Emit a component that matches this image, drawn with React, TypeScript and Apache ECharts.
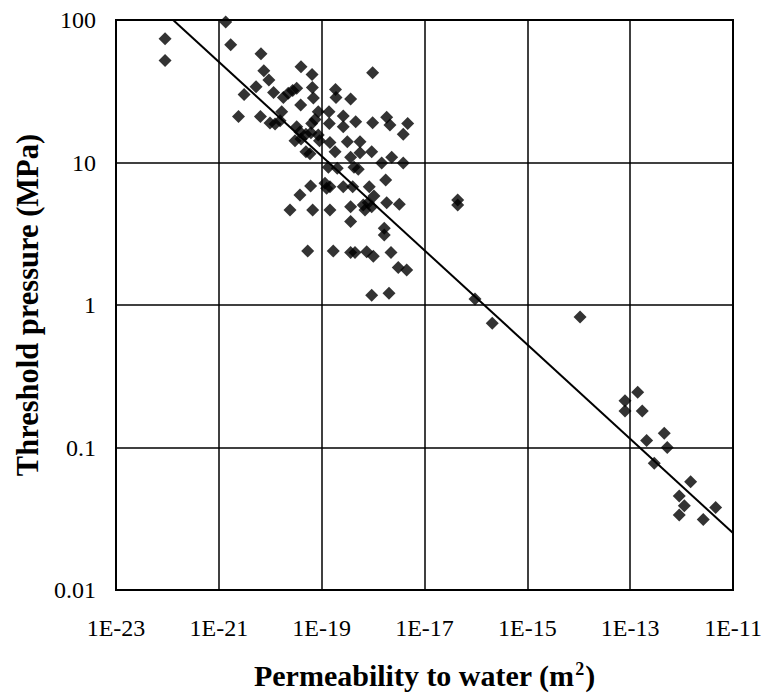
import React, { useEffect, useRef } from "react";
import * as echarts from "echarts";

// Permeability to water (m^2) and threshold pressure (MPa)
const permeability: number[] = [
  9.0e-23, 9.0e-23, 1.36e-21, 1.7e-21, 6.6e-21, 7.5e-21, 9.4e-21, 3.1e-21, 5.3e-21, 1.16e-20,
  1.8e-20, 2.24e-20, 2.73e-20, 3.27e-20, 3.96e-20, 6.5e-20, 6.6e-20, 6.9e-20, 1.86e-19, 1.9e-19,
  3.66e-19, 9.8e-19, 2.41e-21, 6.45e-21, 9.9e-21, 1.24e-20, 1.67e-20, 1.55e-20, 3.91e-20, 3.27e-20,
  3.78e-20, 3.03e-20, 3.96e-20, 6.4e-20, 6.19e-20, 8.59e-20, 9.08e-20, 4.95e-20, 8.59e-20, 7.41e-20,
  1.39e-19, 1.41e-19, 2.63e-19, 2.63e-19, 4.59e-19, 9.8e-19, 1.84e-18, 2.13e-18, 4.71e-18, 3.86e-18,
  1.45e-19, 3.15e-19, 5.56e-19, 4.95e-20, 5.93e-20, 1.82e-19, 3.66e-19, 5.56e-19, 9.4e-19, 2.3e-18,
  1.47e-18, 3.86e-18, 1.35e-19, 2.01e-19, 4.26e-19, 5.15e-19, 1.76e-18, 6.1e-20, 1.16e-19, 1.25e-19,
  1.45e-19, 2.63e-19, 4.01e-19, 8.43e-19, 3.78e-20, 1.04e-18, 2.42e-20, 6.68e-20, 1.45e-19, 3.66e-19,
  3.66e-19, 6.44e-19, 6.97e-19, 9.4e-19, 8.07e-19, 1.84e-18, 3.24e-18, 1.65e-18, 1.65e-18, 5.35e-20,
  1.68e-19, 3.66e-19, 4.45e-19, 7.52e-19, 1.01e-18, 2.23e-18, 3.09e-18, 4.5e-18, 9.4e-19, 2.04e-18,
  4.42e-17, 4.42e-17, 9.6e-17, 2.08e-16, 1.06e-14, 1.4e-13, 7.93e-14, 7.93e-14, 1.72e-13, 4.6e-13,
  2.09e-13, 5.27e-13, 2.94e-13, 1.5e-12, 9.0e-13, 1.13e-12, 9.0e-13, 4.6e-12, 2.64e-12,
];
const thresholdPressure: number[] = [
  74, 52, 97, 67, 58, 44, 38, 30, 34, 31,
  28.6, 30.6, 32, 33.2, 47, 41.5, 33.6, 28.4, 32.5, 28.6,
  27.9, 42.7, 21, 21, 18.9, 18.6, 22.7, 19.6, 25.3, 17.8,
  16.4, 14.2, 14.6, 18.8, 16.2, 15.6, 14.2, 15.8, 22.7, 20,
  22.7, 18.8, 21.2, 17.8, 19.3, 19, 20.8, 18.3, 18.8, 15.8,
  13.8, 14, 14, 11.9, 11.5, 11.9, 10.9, 11.7, 11.9, 10.9,
  9.9, 9.9, 9.25, 9.1, 9.25, 8.97, 7.53, 6.84, 7.14, 6.6,
  6.76, 6.76, 6.76, 6.76, 5.91, 5.82, 4.64, 4.64, 4.64, 4.9,
  3.85, 5.03, 4.64, 4.9, 5.22, 5.22, 5.09, 3.45, 3.1, 2.39,
  2.39, 2.34, 2.34, 2.36, 2.2, 2.34, 1.83, 1.76, 1.17, 1.21,
  5.46, 5.03, 1.1, 0.745, 0.824, 0.244, 0.213, 0.18, 0.18, 0.126,
  0.112, 0.1, 0.0774, 0.0575, 0.0457, 0.039, 0.0336, 0.038, 0.0313,
];

// Fitted power-law line end points
const fitPermeability: number[] = [1.29e-22, 1e-11];
const fitPressure: number[] = [100, 0.0251];

// Axis ranges: permeability decades (log10 of m^2) and pressure (MPa)
const xDecadeRange: number[] = [-23, -11];
const xDecadeStep = 2;
const yRange: number[] = [0.01, 100];

const xTitle = "Permeability to water (m";
const yTitle = "Threshold pressure (MPa)";

const FONT = "'Liberation Serif', 'Times New Roman', serif";

// The x axis is a logarithmic permeability axis; ECharts' log scale rounds values
// below 1e-20 to zero, so the axis runs in decades counted from 1E-23.
const X0 = xDecadeRange[0];
const toAxis = (k: number) => Math.log10(k) - X0;

export default function App() {
  const ref = useRef<HTMLDivElement>(null);

  useEffect(() => {
    document.body.style.margin = "0";
    const chart = echarts.init(ref.current!, null, { renderer: "svg" });

    const points = permeability.map((k, i) => [toAxis(k), thresholdPressure[i]]);
    const fit = fitPermeability.map((k, i) => [toAxis(k), fitPressure[i]]);

    chart.setOption({
      animation: false,
      backgroundColor: "#fff",
      textStyle: { fontFamily: FONT },
      grid: {
        left: 116,
        top: 20,
        width: 617,
        height: 570,
        show: true,
        borderColor: "#000",
        borderWidth: 2,
        backgroundColor: "transparent",
      },
      xAxis: {
        type: "value",
        min: 0,
        max: xDecadeRange[1] - X0,
        interval: xDecadeStep,
        axisLine: { show: true, lineStyle: { color: "#000", width: 2 } },
        axisTick: { show: false },
        splitLine: { show: true, lineStyle: { color: "#000", width: 1.5 } },
        axisLabel: {
          color: "#000",
          fontFamily: FONT,
          fontSize: 24,
          margin: 26,
          formatter: (v: number) => `1E${Math.round(v + X0)}`,
        },
        name: `{t|${xTitle}}{s|2}{t|)}`,
        nameLocation: "middle",
        nameGap: 70,
        nameTextStyle: {
          fontFamily: FONT,
          rich: {
            t: { fontFamily: FONT, fontSize: 30, fontWeight: "bold", color: "#000" },
            s: {
              fontFamily: FONT,
              fontSize: 18,
              fontWeight: "bold",
              color: "#000",
              verticalAlign: "top",
              padding: [0, 1, 13, 1],
            },
          },
        },
      },
      yAxis: {
        type: "log",
        logBase: 10,
        min: yRange[0],
        max: yRange[1],
        axisLine: { show: true, lineStyle: { color: "#000", width: 2 } },
        axisTick: { show: false },
        splitLine: { show: true, lineStyle: { color: "#000", width: 1.5 } },
        axisLabel: {
          color: "#000",
          fontFamily: FONT,
          fontSize: 24,
          margin: 20,
          formatter: (v: number) => {
            const e = Math.round(Math.log10(v));
            const val = Math.pow(10, e);
            return e >= 0 ? String(val) : val.toFixed(-e);
          },
        },
        name: yTitle,
        nameLocation: "middle",
        nameGap: 70,
        nameTextStyle: {
          fontFamily: FONT,
          fontSize: 30.5,
          fontWeight: "bold",
          color: "#000",
        },
      },
      series: [
        {
          type: "line",
          data: fit,
          symbol: "none",
          lineStyle: { color: "#000", width: 2 },
          clip: true,
          silent: true,
        },
        {
          type: "scatter",
          data: points,
          symbol: "diamond",
          symbolSize: 13,
          itemStyle: { color: "#000" },
        },
      ],
    });

    return () => chart.dispose();
  }, []);

  return <div ref={ref} style={{ width: 766, height: 699 }} />;
}
